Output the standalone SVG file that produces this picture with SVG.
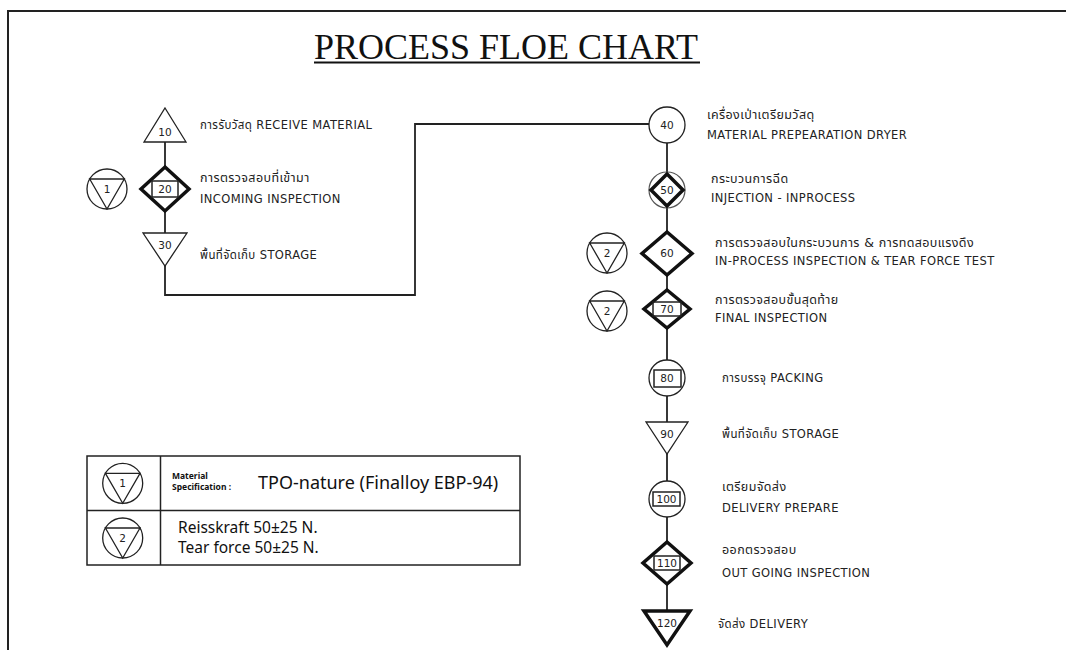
<svg xmlns="http://www.w3.org/2000/svg" width="1066" height="650" viewBox="0 0 1066 650">
<style>
.t{font-family:"DejaVu Sans","Noto Sans Thai","Noto Sans",sans-serif;font-size:11.5px;letter-spacing:0.4px;fill:#222}
.th{font-size:12.5px}
.n{font-family:"DejaVu Sans","Noto Sans",sans-serif;font-size:10.5px;fill:#222;text-anchor:middle}
.s{fill:#fff;stroke:#222;stroke-width:1.3}
.k{fill:#fff;stroke:#111;stroke-width:3.5;stroke-linejoin:miter}
.c{fill:none;stroke:#222;stroke-width:1.8}
.b{fill:none;stroke:#222;stroke-width:1.5}
.lg{font-family:"Noto Sans","Open Sans",sans-serif;fill:#111}
</style>
<defs>
<g id="sym">
<circle cx="0" cy="0" r="20" class="s"/>
<polygon points="-17.3,-10 17.3,-10 0,20" class="s"/>
</g>
</defs>
<rect width="1066" height="650" fill="#fff"/>
<path d="M8,650 V11 H1066" fill="none" stroke="#222" stroke-width="2"/>
<g id="title">
<text x="314" y="59" font-family="Liberation Serif,serif" font-size="36" fill="#111">PROCESS FLOE CHART</text>
<line x1="314" y1="62.5" x2="700" y2="62.5" stroke="#111" stroke-width="1.8"/>
</g>
<g id="connectors">
<line x1="165" y1="142" x2="165" y2="167" class="c"/>
<line x1="165" y1="211" x2="165" y2="233" class="c"/>
<polyline points="165,266 165,295 415,295 415,124 649,124" class="c"/>
<line x1="667" y1="143" x2="667" y2="172" class="c"/>
<line x1="667" y1="208" x2="667" y2="232" class="c"/>
<line x1="667" y1="275" x2="667" y2="291" class="c"/>
<line x1="667" y1="327" x2="667" y2="360" class="c"/>
<line x1="667" y1="396" x2="667" y2="422" class="c"/>
<line x1="667" y1="454" x2="667" y2="481" class="c"/>
<line x1="667" y1="517" x2="667" y2="542" class="c"/>
<line x1="667" y1="584" x2="667" y2="610" class="c"/>
</g>
<g id="n10">
<polygon points="165,108 186,142 144,142" class="s"/>
<text x="165" y="136" class="n">10</text>
<text x="200" y="129" class="t">การรับวัสดุ RECEIVE MATERIAL</text>
</g>
<g id="i1">
<use href="#sym" x="107" y="189"/>
<text x="107" y="192.5" class="n">1</text>
</g>
<g id="n20">
<polygon points="165,167 189,189 165,211 141,189" class="k"/>
<rect x="152" y="181" width="26" height="16" class="b" fill="#fff"/>
<text x="165" y="193" class="n">20</text>
<text x="200" y="182" class="t th">การตรวจสอบที่เข้ามา</text>
<text x="200" y="203" class="t">INCOMING INSPECTION</text>
</g>
<g id="n30">
<polygon points="143,233 187,233 165,266" class="s"/>
<text x="165" y="249" class="n">30</text>
<text x="200" y="259" class="t">พื้นที่จัดเก็บ STORAGE</text>
</g>
<g id="n40">
<circle cx="667" cy="125" r="18" class="s"/>
<text x="667" y="129" class="n">40</text>
<text x="707" y="119" class="t th">เครื่องเป่าเตรียมวัสดุ</text>
<text x="707" y="139" class="t">MATERIAL PREPEARATION DRYER</text>
</g>
<g id="n50">
<circle cx="667" cy="190" r="18" fill="#fff" stroke="#555" stroke-width="1.2"/>
<polygon points="667,174 683,190 667,206 651,190" class="k" stroke-width="3"/>
<text x="667" y="194" class="n">50</text>
<text x="711" y="183" class="t th">กระบวนการฉีด</text>
<text x="711" y="202" class="t">INJECTION - INPROCESS</text>
</g>
<g id="i2a">
<use href="#sym" x="607" y="253"/>
<text x="607" y="256.5" class="n">2</text>
</g>
<g id="n60">
<polygon points="667,232 692,253.5 667,275 642,253.5" class="k" stroke-width="4"/>
<text x="667" y="257" class="n">60</text>
<text x="715" y="247" class="t th">การตรวจสอบในกระบวนการ &amp; การทดสอบแรงดึง</text>
<text x="715" y="265" class="t">IN-PROCESS INSPECTION &amp; TEAR FORCE TEST</text>
</g>
<g id="i2b">
<use href="#sym" x="607" y="311"/>
<text x="607" y="314.5" class="n">2</text>
</g>
<g id="n70">
<polygon points="667,290 690,309 667,328 644,309" class="k" stroke-width="4"/>
<rect x="653" y="302" width="28" height="14" class="b" fill="#fff"/>
<text x="667" y="313" class="n">70</text>
<text x="715" y="304" class="t th">การตรวจสอบขั้นสุดท้าย</text>
<text x="715" y="322" class="t">FINAL INSPECTION</text>
</g>
<g id="n80">
<circle cx="667" cy="378" r="18" class="s"/>
<rect x="654" y="370" width="27" height="17" class="b" stroke-width="2"/>
<text x="667" y="382" class="n">80</text>
<text x="722" y="382" class="t">การบรรจุ PACKING</text>
</g>
<g id="n90">
<polygon points="646,422 688,422 667,454" class="s"/>
<text x="667" y="438" class="n">90</text>
<text x="722" y="438" class="t">พื้นที่จัดเก็บ STORAGE</text>
</g>
<g id="n100">
<circle cx="667" cy="499" r="18" class="s"/>
<rect x="653" y="492" width="27" height="14" class="b" stroke-width="2"/>
<text x="666.5" y="503" class="n">100</text>
<text x="722" y="491" class="t th">เตรียมจัดส่ง</text>
<text x="722" y="512" class="t">DELIVERY PREPARE</text>
</g>
<g id="n110">
<polygon points="667,542 691,563 667,584 643,563" class="k" stroke-width="4"/>
<rect x="654" y="556" width="26" height="14" class="b" fill="#fff"/>
<text x="667" y="567" class="n">110</text>
<text x="722" y="554" class="t th">ออกตรวจสอบ</text>
<text x="722" y="577" class="t">OUT GOING INSPECTION</text>
</g>
<g id="n120">
<polygon points="644,611 690,611 667,645" class="k" stroke-width="4"/>
<text x="667" y="627" class="n">120</text>
<text x="718" y="628" class="t">จัดส่ง DELIVERY</text>
</g>
<g id="legend">
<rect x="87" y="456" width="433" height="109" fill="none" stroke="#222" stroke-width="1.5"/>
<line x1="87" y1="510.5" x2="520" y2="510.5" stroke="#222" stroke-width="1.5"/>
<line x1="160.5" y1="456" x2="160.5" y2="565" stroke="#222" stroke-width="1.5"/>
<use href="#sym" x="122.7" y="483.3"/>
<text x="122.7" y="486.8" class="n">1</text>
<use href="#sym" x="122.7" y="538"/>
<text x="122.7" y="541.5" class="n">2</text>
<text x="172" y="479" class="lg" font-size="8.5" font-weight="bold">Material</text>
<text x="172" y="490" class="lg" font-size="8.5" font-weight="bold">Specification :</text>
<text x="258" y="489" class="lg" font-size="18">TPO-nature (Finalloy EBP-94)</text>
<text x="178" y="533" class="lg" font-size="15.5">Reisskraft 50±25 N.</text>
<text x="178" y="553" class="lg" font-size="15.5">Tear force 50±25 N.</text>
</g>
</svg>
